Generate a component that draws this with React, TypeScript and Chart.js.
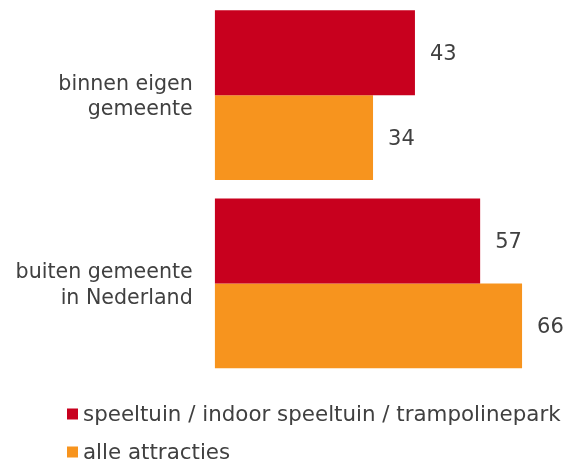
import React, { useEffect, useRef } from "react";
import { Chart, registerables } from "chart.js";

Chart.register(...registerables);

const categories: string[][] = [["binnen eigen", "gemeente"], ["buiten gemeente", "in Nederland"]];
const seriesNames = ["speeltuin / indoor speeltuin / trampolinepark", "alle attracties"];
const speeltuinValues = [43, 57];
const alleValues = [34, 66];
const colors = ["#C8001E", "#F7941E"];

const FONT = "DejaVu Sans";
const TEXT = "#404040";

const valueLabels = {
  id: "valueLabels",
  afterDatasetsDraw(chart: any) {
    const ctx = chart.ctx;
    ctx.save();
    ctx.font = `21px "${FONT}"`;
    ctx.fillStyle = TEXT;
    ctx.textAlign = "left";
    ctx.textBaseline = "middle";
    chart.data.datasets.forEach((ds: any, i: number) => {
      const meta = chart.getDatasetMeta(i);
      meta.data.forEach((bar: any, j: number) => {
        ctx.fillText(String(ds.data[j]), bar.x + 15, bar.y + 2);
      });
    });
    ctx.restore();
  },
};

const customLegend = {
  id: "customLegend",
  afterDraw(chart: any) {
    const ctx = chart.ctx;
    ctx.save();
    ctx.font = `21.4px "${FONT}"`;
    ctx.textAlign = "left";
    ctx.textBaseline = "middle";
    const ys = [414, 452];
    chart.data.datasets.forEach((ds: any, i: number) => {
      const y = ys[i];
      ctx.fillStyle = ds.backgroundColor;
      ctx.fillRect(67, y - 5.5, 11, 11);
      ctx.fillStyle = TEXT;
      ctx.fillText(ds.label, 83, y + 1);
    });
    ctx.restore();
  },
};

export default function App() {
  const ref = useRef<HTMLCanvasElement>(null);
  useEffect(() => {
    document.body.style.margin = "0";
    const chart = new Chart(ref.current!, {
      type: "bar",
      data: {
        labels: categories as any,
        datasets: [
          { label: seriesNames[0], data: speeltuinValues, backgroundColor: colors[0] },
          { label: seriesNames[1], data: alleValues, backgroundColor: colors[1] },
        ],
      },
      options: {
        indexAxis: "y",
        responsive: false,
        animation: false,
        devicePixelRatio: 1,
        layout: { padding: { left: 0, right: 18, top: 1, bottom: 82.5 } },
        plugins: { legend: { display: false }, tooltip: { enabled: false } },
        datasets: { bar: { categoryPercentage: 0.903, barPercentage: 1 } },
        scales: {
          x: { display: false, min: 0, max: 72 },
          y: {
            grid: { display: false },
            border: { display: false },
            ticks: {
              color: TEXT,
              font: { family: FONT, size: 20.6, lineHeight: 1.26 },
              padding: 14,
              labelOffset: 2,
            },
            afterFit(scale: any) {
              scale.width = 214.7;
              scale.paddingTop = 0;
              scale.paddingBottom = 0;
            },
          },
        },
      },
      plugins: [valueLabels, customLegend],
    });
    return () => chart.destroy();
  }, []);
  return <canvas ref={ref} width={568} height={460} style={{ display: "block" }} />;
}
